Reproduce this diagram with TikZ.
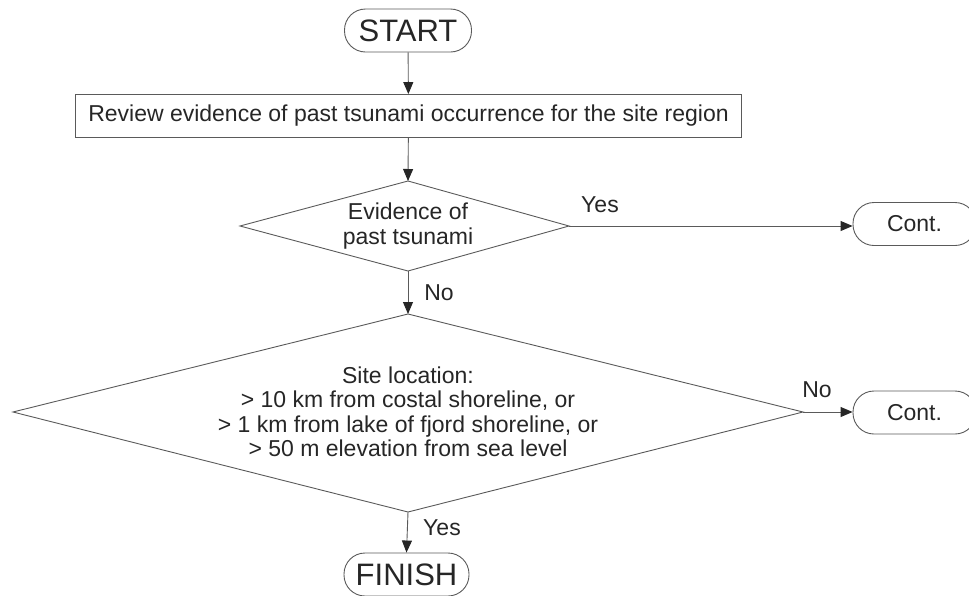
\documentclass[tikz,border=0pt]{standalone}
\usepackage{fontspec}
\setmainfont{Liberation Sans}
\usetikzlibrary{arrows.meta}
\definecolor{ln}{HTML}{5A5A5A}
\definecolor{tx}{HTML}{262626}
\newcommand{\gtsym}{\symbol{62}}
\tikzset{
  base/.style={draw=ln, line width=0.9pt, text=tx, font=\fontsize{23}{24.5}\selectfont, align=center},
  term/.style={base, rounded corners=21pt, minimum height=43pt, inner sep=0pt},
  bigterm/.style={term, font=\fontsize{31}{32}\selectfont},
  procbox/.style={base, rectangle, minimum width=666pt, minimum height=43pt, inner sep=0pt},
  dshape/.style={draw=ln, line width=0.9pt},
  dtext/.style={text=tx, font=\fontsize{23}{24.5}\selectfont, align=center, inner sep=0pt},
  conn/.style={draw=ln, line width=0.9pt, -{Triangle[length=12pt,width=10pt,color=tx]}},
  lbl/.style={text=tx, font=\fontsize{23}{24.5}\selectfont, inner sep=0pt}
}
\begin{document}
\begin{tikzpicture}[x=1pt,y=-1pt]
\useasboundingbox (0,0) rectangle (969,595);
\node[bigterm, minimum width=127pt] (start) at (408,30.5) {START};
\node[procbox] (review) at (408.5,116) {Review evidence of past tsunami occurrence for the site region};
% decision 1
\coordinate (d1t) at (408,181);
\coordinate (d1r) at (569,226);
\coordinate (d1b) at (408,271);
\coordinate (d1l) at (240,226);
\draw[dshape] (d1t) -- (d1r) -- (d1b) -- (d1l) -- cycle;
\node[dtext] (d1) at (408,226) {Evidence of\\past tsunami};
% decision 2
\coordinate (d2t) at (408,314);
\coordinate (d2r) at (803,412);
\coordinate (d2b) at (408,512);
\coordinate (d2l) at (13,412);
\draw[dshape] (d2t) -- (d2r) -- (d2b) -- (d2l) -- cycle;
\node[dtext] (d2) at (408,412) {Site location:\\\gtsym{} 10 km from costal shoreline, or\\\gtsym{} 1 km from lake of fjord shoreline, or\\\gtsym{} 50 m elevation from sea level};
\node[term, minimum width=123pt] (c1) at (914.5,224) {Cont.};
\node[term, minimum width=123pt] (c2) at (914.5,412.5) {Cont.};
\node[bigterm, minimum width=125pt] (finish) at (406.5,574.5) {FINISH};
\draw[conn] (start) -- (review);
\draw[conn] (review) -- (d1t);
\draw[conn] (d1r) -- (d1r -| c1.west);
\draw[conn] (d1b) -- (d2t);
\draw[conn] (d2r) -- (d2r -| c2.west);
\draw[conn] (d2b) -- (finish.north);
\node[lbl] (yes1) at (600,205) {Yes};
\node[lbl] (no1) at (439,293) {No};
\node[lbl] (no2) at (817,390) {No};
\node[lbl] (yes2) at (442,528) {Yes};
\end{tikzpicture}
\end{document}
